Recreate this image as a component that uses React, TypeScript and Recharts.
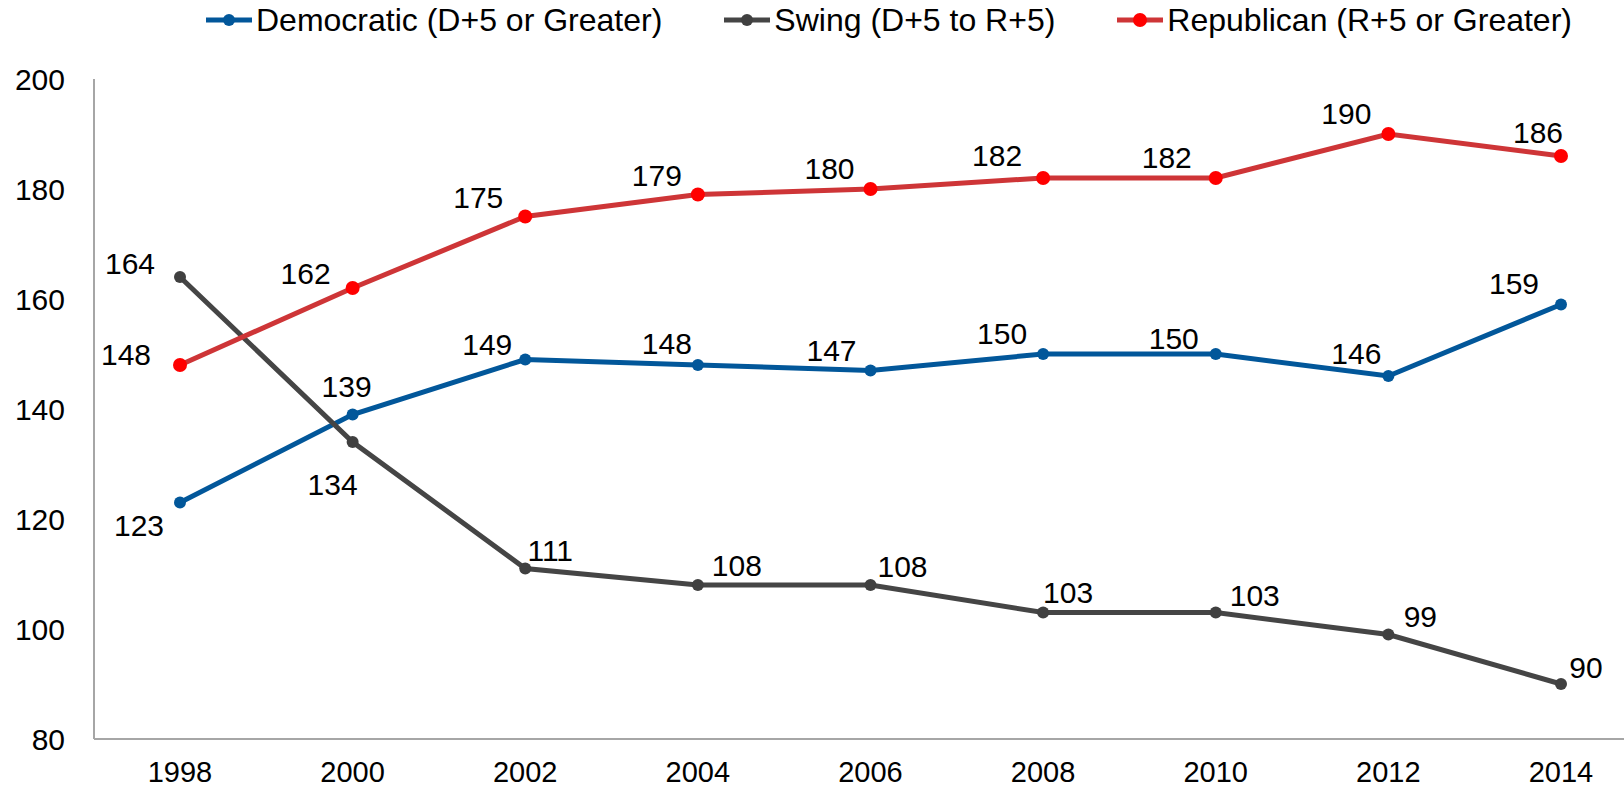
import React from "react";
import { LineChart, Line, XAxis, YAxis, LabelList } from "recharts";

const years = ["1998", "2000", "2002", "2004", "2006", "2008", "2010", "2012", "2014"];
const democratic = [123, 139, 149, 148, 147, 150, 150, 146, 159];
const swing = [164, 134, 111, 108, 108, 103, 103, 99, 90];
const republican = [148, 162, 175, 179, 180, 182, 182, 190, 186];
const yTicks = [80, 100, 120, 140, 160, 180, 200];

const FONT = "'Liberation Sans', Arial, sans-serif";

// label offsets (dx, dy) from each point, by series
const demOffsets = [[-41, 23], [-6, -28], [-38, -15], [-31, -22], [-39, -20], [-41, -21], [-42, -16], [-32, -23], [-47, -21]];
const swingOffsets = [[-50, -14], [-20, 42], [25, -18], [39, -20], [32, -19], [25, -20], [39, -17], [32, -18], [25, -17]];
const repOffsets = [[-54, -11], [-47, -15], [-47, -19], [-41, -19], [-41, -21], [-46, -23], [-49, -21], [-42, -21], [-23, -24]];

const series = [
  { key: "dem", name: "Democratic (D+5 or Greater)", line: "#02579A", dot: "#02579A", r: 6, offsets: demOffsets },
  { key: "swing", name: "Swing (D+5 to R+5)", line: "#454545", dot: "#404040", r: 6, offsets: swingOffsets },
  { key: "rep", name: "Republican (R+5 or Greater)", line: "#CE3537", dot: "#FF0000", r: 7, offsets: repOffsets },
];

const data = years.map((year, i) => ({
  year,
  dem: democratic[i],
  swing: swing[i],
  rep: republican[i],
}));

const makeLabel = (offsets: number[][]) => (props: any) => {
  const x = props.x ?? props.viewBox?.x;
  const y = props.y ?? props.viewBox?.y;
  const [dx, dy] = offsets[props.index] || [0, -20];
  return (
    <text
      x={x + dx}
      y={y + dy}
      textAnchor="middle"
      dominantBaseline="central"
      fontSize={30}
      fontFamily={FONT}
      fill="#000"
    >
      {props.value}
    </text>
  );
};

function LegendRow() {
  return (
    <div
      style={{
        position: "absolute",
        left: 206,
        top: 0,
        height: 40,
        display: "flex",
        alignItems: "center",
        gap: 62,
        fontFamily: FONT,
        fontSize: 32,
        color: "#000",
        whiteSpace: "nowrap",
      }}
    >
      {series.map((s) => (
        <div key={s.key} style={{ display: "flex", alignItems: "center" }}>
          <svg width={46} height={16} style={{ marginRight: 4 }}>
            <line x1={0} y1={8} x2={46} y2={8} stroke={s.line} strokeWidth={5} />
            <circle cx={23} cy={8} r={s.r} fill={s.dot} />
          </svg>
          <span>{s.name}</span>
        </div>
      ))}
    </div>
  );
}

export default function App() {
  return (
    <div style={{ position: "absolute", left: 0, top: 0, width: 1624, height: 788, background: "#fff" }}>
      <LegendRow />
      <LineChart width={1624} height={788} data={data} margin={{ top: 79, right: 0, bottom: 0, left: 0 }}>
        <XAxis
          dataKey="year"
          height={49}
          padding={{ left: 86, right: 63 }}
          axisLine={{ stroke: "#A6A6A6", strokeWidth: 2 }}
          tickLine={false}
          tickSize={0}
          tickMargin={22}
          tick={{ fill: "#000", fontSize: 29, fontFamily: FONT }}
          interval={0}
        />
        <YAxis
          domain={[80, 200]}
          ticks={yTicks}
          width={94}
          axisLine={{ stroke: "#A6A6A6", strokeWidth: 2 }}
          tickLine={false}
          tickSize={0}
          tickMargin={29}
          tick={{ fill: "#000", fontSize: 30, fontFamily: FONT }}
          interval={0}
        />
        {series.map((s) => (
          <Line
            key={s.key}
            dataKey={s.key}
            name={s.name}
            type="linear"
            stroke={s.line}
            strokeWidth={5}
            dot={{ r: s.r, fill: s.dot, stroke: "none" }}
            activeDot={false}
            isAnimationActive={false}
          >
            <LabelList dataKey={s.key} content={makeLabel(s.offsets)} />
          </Line>
        ))}
      </LineChart>
    </div>
  );
}
